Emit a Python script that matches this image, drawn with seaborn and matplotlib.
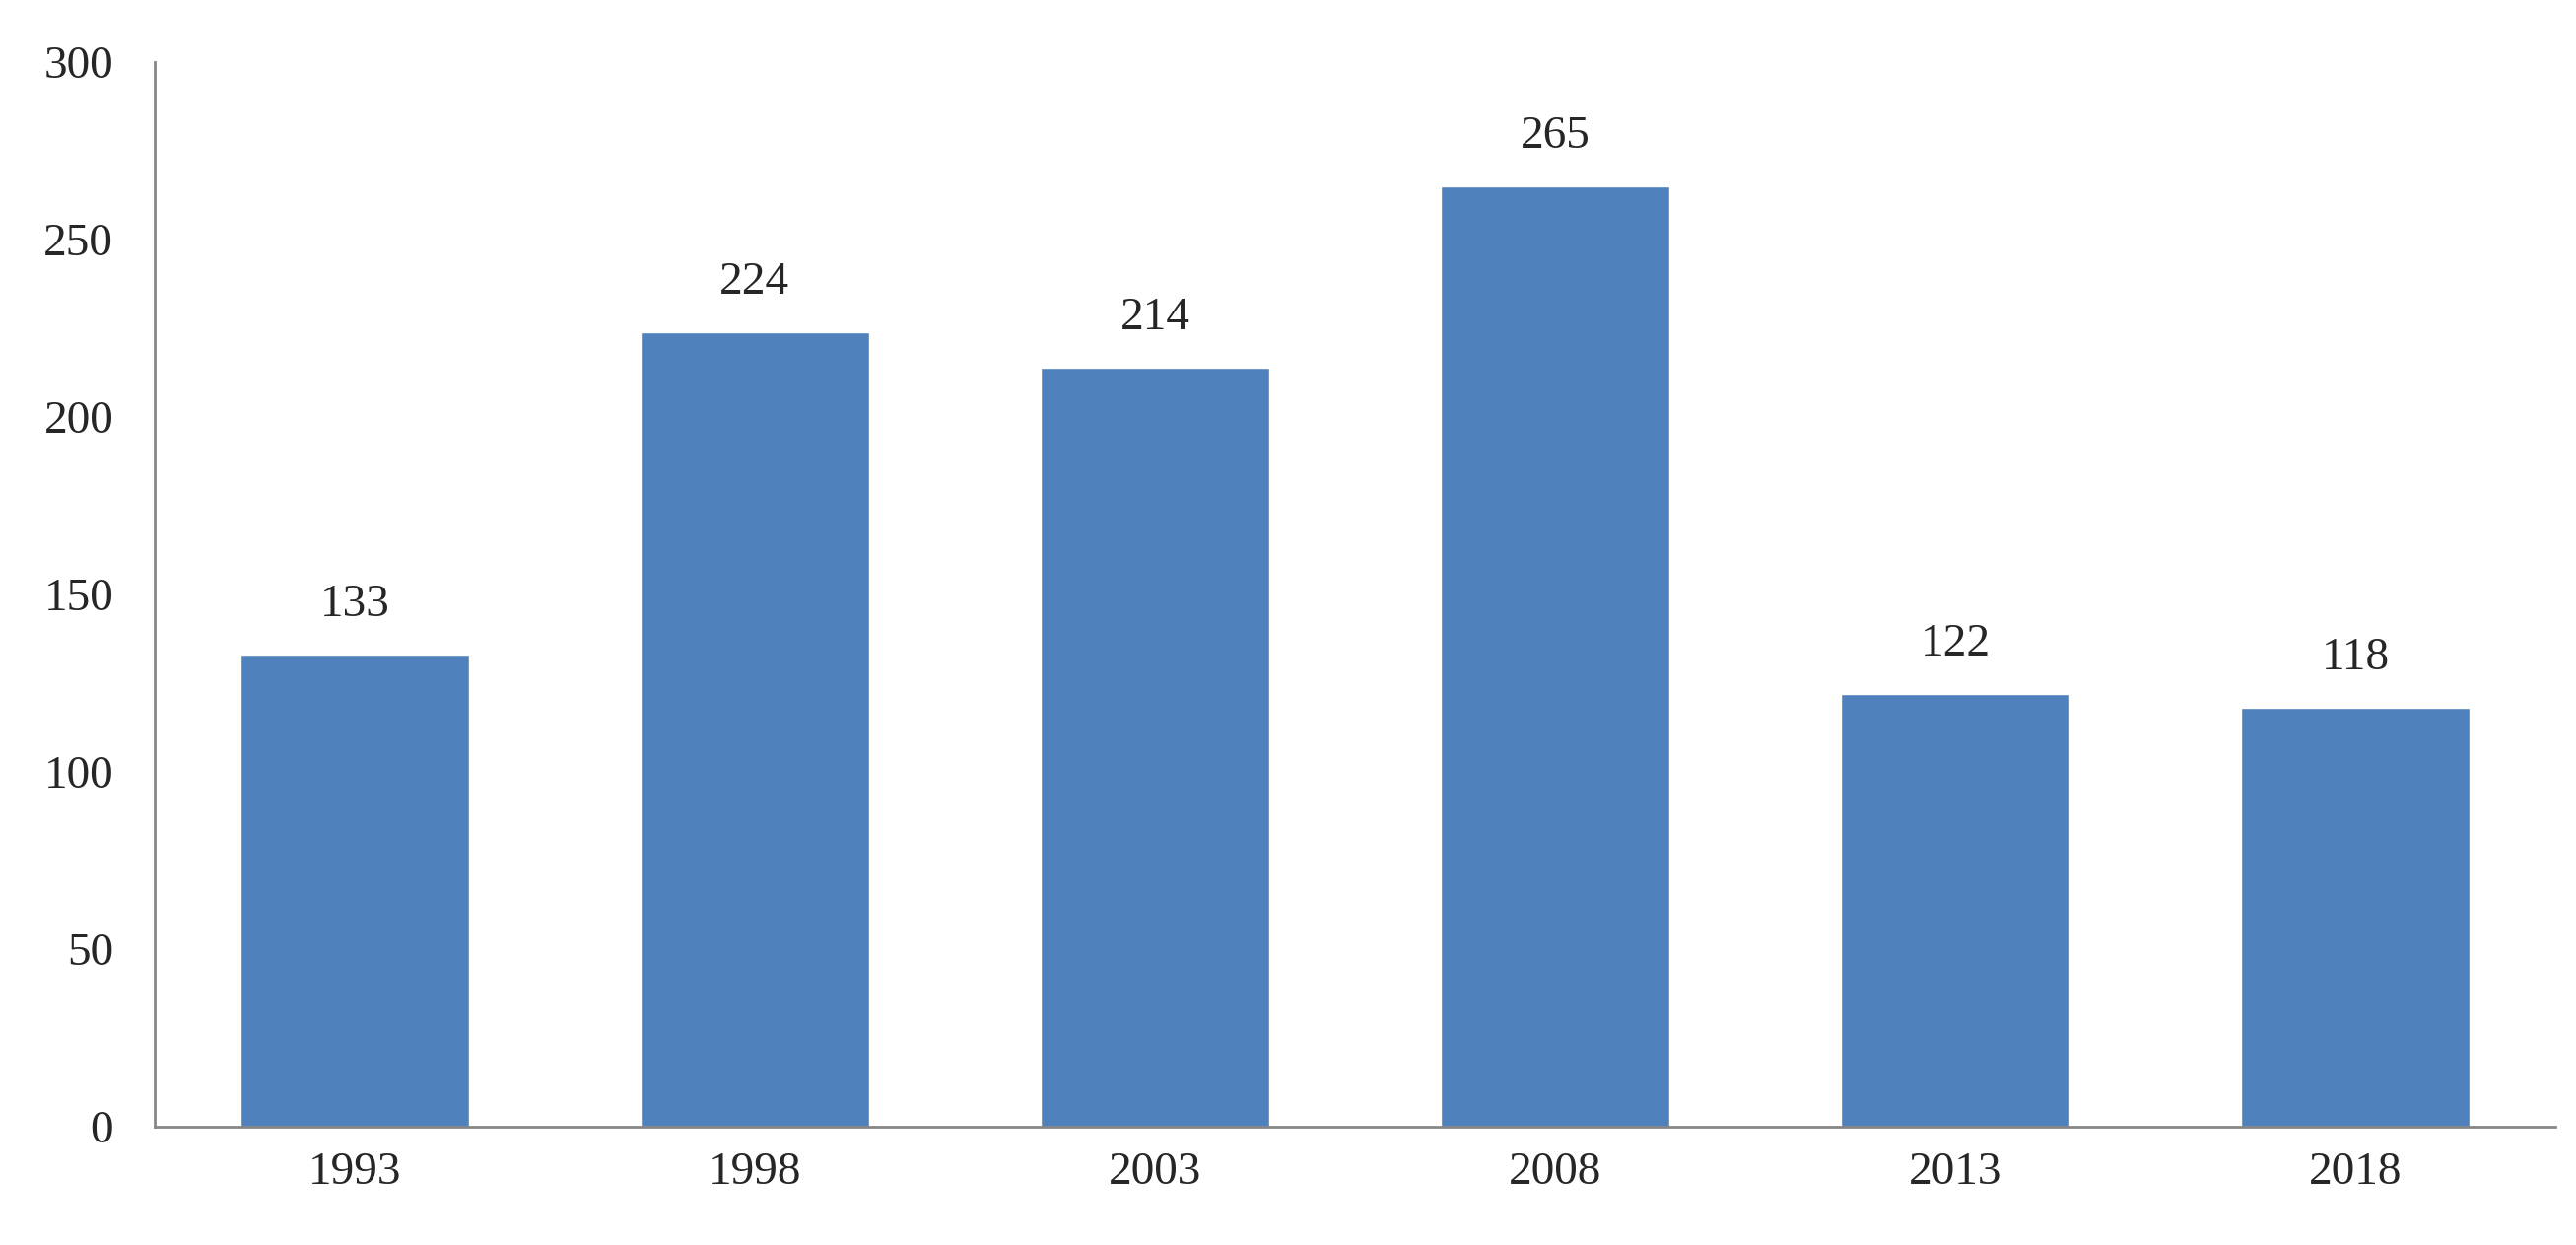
import matplotlib
matplotlib.use('Agg')
import matplotlib.pyplot as plt
import seaborn as sns
import pandas as pd

# Chart data
years = ['1993', '1998', '2003', '2008', '2013', '2018']
values = [133, 224, 214, 265, 122, 118]

df = pd.DataFrame({'year': years, 'value': values})

sns.set_style('white')
plt.rcParams['font.family'] = ['Liberation Serif', 'DejaVu Serif']

fig = plt.figure(figsize=(26.14, 12.63), dpi=100)
ax = fig.add_axes([0.06, 0.095, 0.932, 0.855])

sns.barplot(data=df, x='year', y='value', color='#4F81BD', saturation=1, width=0.57, ax=ax)

for i, v in enumerate(values):
    ax.text(i, v + 8, str(v), ha='center', va='bottom', fontsize=34)

ax.set_ylim(0, 300)
ax.set_yticks(range(0, 301, 50))
ax.set_xlabel('')
ax.set_ylabel('')
ax.tick_params(axis='both', labelsize=34, length=0)
ax.tick_params(axis='x', pad=18)
ax.tick_params(axis='y', pad=30)
for s in ['top', 'right']:
    ax.spines[s].set_visible(False)
for s in ['left', 'bottom']:
    ax.spines[s].set_color('#868686')
    ax.spines[s].set_linewidth(2)

fig.savefig('out.png', dpi=100)
